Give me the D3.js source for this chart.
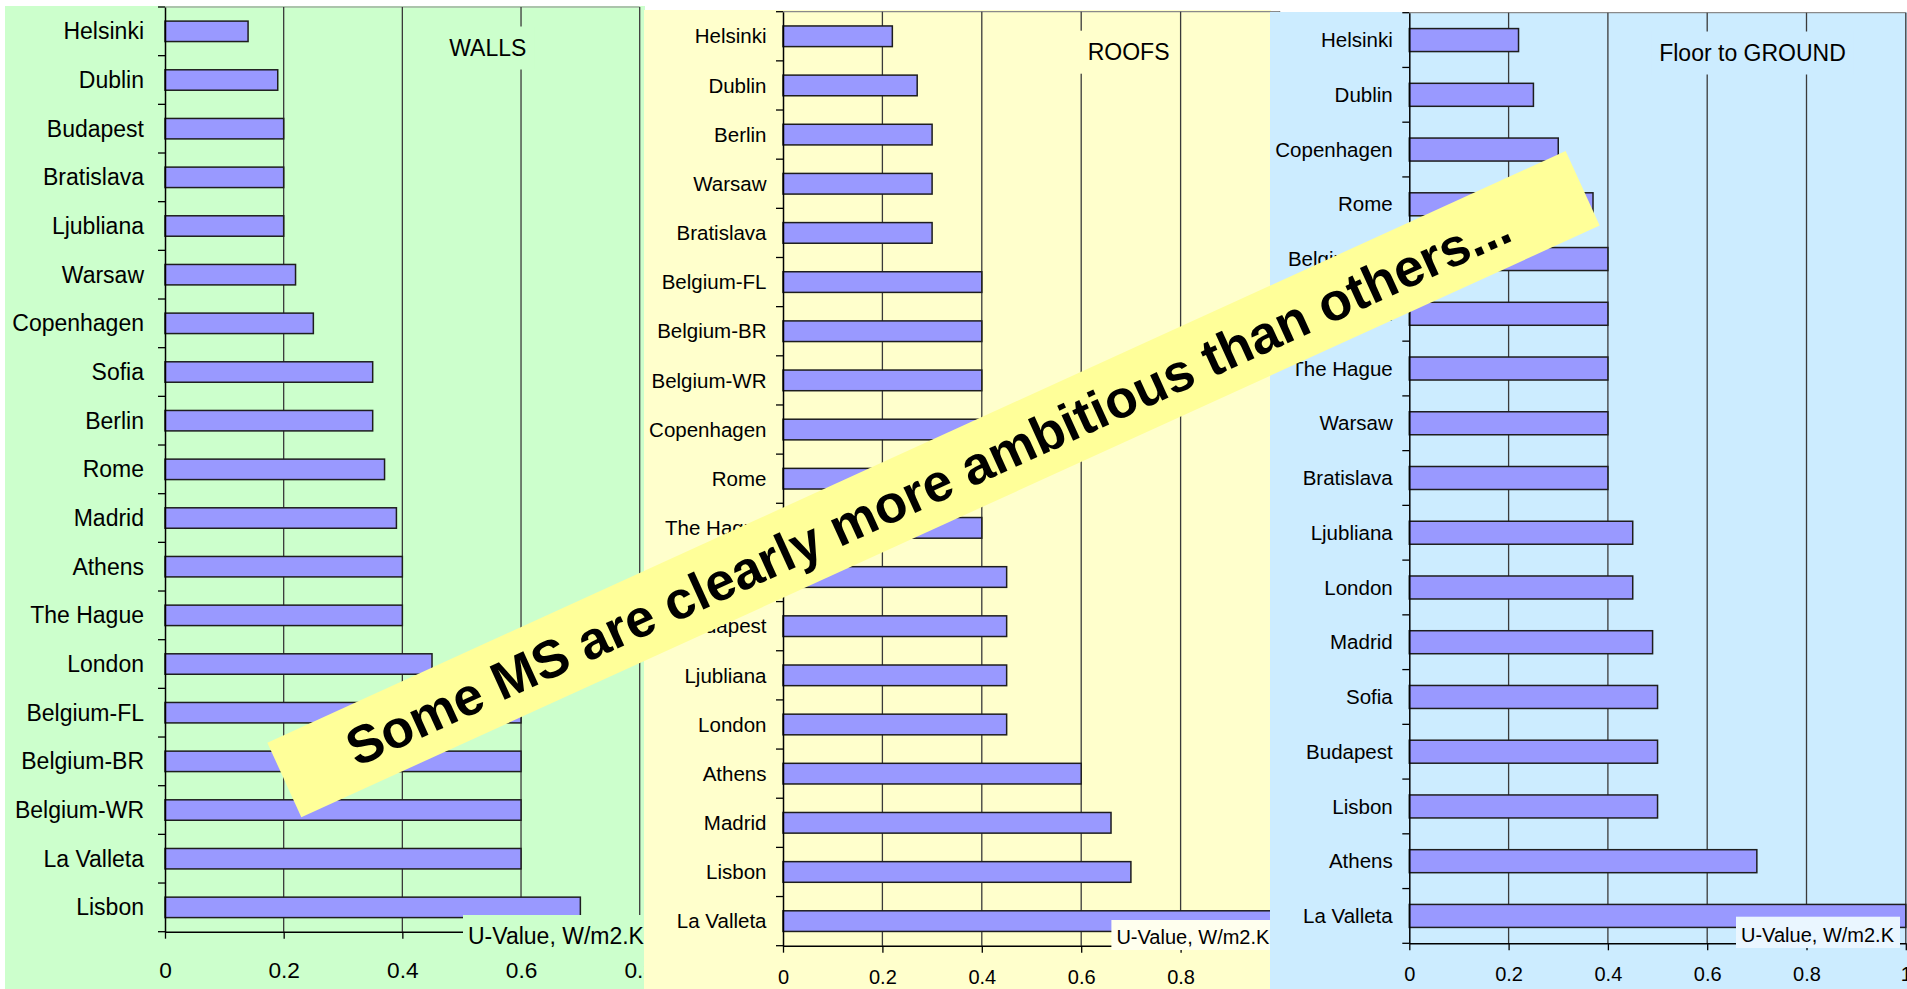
<!DOCTYPE html>
<html>
<head>
<meta charset="utf-8">
<script src="https://cdn.jsdelivr.net/npm/d3@7"></script>
<style>
  body { margin: 0; background: #fff; }
  svg { display: block; font-family: "Liberation Sans", Arial, sans-serif; }
</style>
</head>
<body>
<svg id="chart" width="1907" height="989"></svg>
<script>
// walls
var wallsCities = ["Helsinki", "Dublin", "Budapest", "Bratislava", "Ljubliana", "Warsaw", "Copenhagen", "Sofia", "Berlin", "Rome",
    "Madrid", "Athens", "The Hague", "London", "Belgium-FL", "Belgium-BR", "Belgium-WR", "La Valleta", "Lisbon"];
var wallsValues = [0.14, 0.19, 0.2, 0.2, 0.2, 0.22, 0.25, 0.35, 0.35, 0.37, 0.39, 0.4, 0.4, 0.45, 0.6, 0.6, 0.6, 0.6, 0.7];

// roofs
var roofsCities = ["Helsinki", "Dublin", "Berlin", "Warsaw", "Bratislava", "Belgium-FL", "Belgium-BR", "Belgium-WR", "Copenhagen", "Rome",
    "The Hague", "Sofia", "Budapest", "Ljubliana", "London", "Athens", "Madrid", "Lisbon", "La Valleta"];
var roofsValues = [0.22, 0.27, 0.3, 0.3, 0.3, 0.4, 0.4, 0.4, 0.4, 0.4, 0.4, 0.45, 0.45, 0.45, 0.45, 0.6, 0.66, 0.7, 1.0];

// floor to ground
var floorCities = ["Helsinki", "Dublin", "Copenhagen", "Rome", "Belgium-FL", "Belgium-BR", "The Hague", "Warsaw", "Bratislava",
    "Ljubliana", "London", "Madrid", "Sofia", "Budapest", "Lisbon", "Athens", "La Valleta"];
var floorValues = [0.22, 0.25, 0.3, 0.37, 0.4, 0.4, 0.4, 0.4, 0.4, 0.45, 0.45, 0.49, 0.5, 0.5, 0.5, 0.7, 1.0];

var wallsTicks = [0, 0.2, 0.4, 0.6, 0.8];
var roofsTicks = [0, 0.2, 0.4, 0.6, 0.8, 1];
var floorTicks = [0, 0.2, 0.4, 0.6, 0.8, 1];

var unitLabel = "U-Value, W/m2.K";
var bannerText = "Some MS are clearly more ambitious than others...";

var svg = d3.select("#chart");

function drawPanel(cfg) {
    var g = svg.append("g");
    var n = cfg.cities.length;

    var x = d3.scaleLinear().domain([0, d3.max(cfg.ticks)]).range([cfg.left, cfg.right]);
    var y = d3.scaleBand().domain(cfg.cities).range([cfg.top, cfg.bottom])
        .paddingInner(0.58).paddingOuter(0.29);

    g.append("rect")
        .attr("x", cfg.bg[0]).attr("y", cfg.bg[1])
        .attr("width", cfg.bg[2]).attr("height", cfg.bg[3])
        .attr("fill", cfg.color);

    // plot area top border
    g.append("line")
        .attr("x1", x(0)).attr("x2", x(d3.max(cfg.ticks)))
        .attr("y1", cfg.top).attr("y2", cfg.top)
        .attr("stroke", "#8a8a8a").attr("stroke-width", 1.2);

    // gridlines
    g.selectAll(".grid")
        .data(cfg.ticks.filter(function(d) { return d > 0; }))
        .enter().append("line")
        .attr("x1", function(d) { return x(d); }).attr("x2", function(d) { return x(d); })
        .attr("y1", cfg.top).attr("y2", cfg.bottom)
        .attr("stroke", "#3a3a3a").attr("stroke-width", 1.3);

    // title with a box in panel colour hiding the gridlines
    var title = g.append("text")
        .attr("x", cfg.title[1]).attr("y", cfg.title[2])
        .attr("text-anchor", "middle").attr("dy", "0.35em")
        .style("font-size", "23px").attr("fill", "#000")
        .text(cfg.title[0]);
    var tw = title.node().getComputedTextLength();
    g.insert("rect", function() { return title.node(); })
        .attr("x", cfg.title[1] - tw / 2 - 8).attr("y", cfg.title[2] - 21)
        .attr("width", tw + 16).attr("height", 43)
        .attr("fill", cfg.color);

    // bars
    g.selectAll(".bar")
        .data(cfg.cities)
        .enter().append("rect")
        .attr("x", x(0))
        .attr("y", function(d) { return y(d); })
        .attr("width", function(d, i) { return x(cfg.values[i]) - x(0); })
        .attr("height", y.bandwidth())
        .attr("fill", "#9999FF")
        .attr("stroke", "#1e1e1e").attr("stroke-width", 1.5);

    // y axis with category labels
    var yAxis = g.append("g")
        .attr("transform", "translate(" + x(0) + ",0)")
        .call(d3.axisLeft(y).tickSize(0).tickSizeOuter(0).tickPadding(cfg.gap));
    yAxis.select(".domain").attr("stroke", "#000").attr("stroke-width", 1.5);
    yAxis.selectAll("text").style("font-size", cfg.fs + "px").attr("fill", "#000").attr("dy", "0.35em");

    // category separators on the axis
    g.selectAll(".ctick")
        .data(d3.range(n + 1))
        .enter().append("line")
        .attr("x1", x(0) - 7).attr("x2", x(0))
        .attr("y1", function(i) { return y.range()[0] + i * y.step(); })
        .attr("y2", function(i) { return y.range()[0] + i * y.step(); })
        .attr("stroke", "#000").attr("stroke-width", 1.3);

    // x axis
    var xAxis = g.append("g")
        .attr("transform", "translate(0," + cfg.bottom + ")")
        .call(d3.axisBottom(x).tickValues(cfg.ticks).tickSize(7).tickSizeOuter(0)
            .tickFormat(function(d) { return String(d); }));
    xAxis.select(".domain").attr("stroke", "#000").attr("stroke-width", 1.5);
    xAxis.selectAll("line").attr("stroke", "#000").attr("stroke-width", 1.3);
    xAxis.selectAll("text")
        .attr("y", cfg.tickOff).attr("dy", "0.35em")
        .style("font-size", cfg.tickFs + "px").attr("fill", "#000");

    // unit label box
    var u = cfg.unit;
    g.append("rect")
        .attr("x", u.x).attr("y", u.y0)
        .attr("width", u.w).attr("height", u.y1 - u.y0)
        .attr("fill", u.fill);
    g.append("text")
        .attr("x", u.x + 5).attr("y", u.base)
        .style("font-size", u.fs + "px").attr("fill", "#000")
        .text(unitLabel);
}

drawPanel({
    cities: wallsCities, values: wallsValues, ticks: wallsTicks,
    color: "#CCFFCC", bg: [5, 6, 640, 983],
    left: 165, right: 639.7, top: 7, bottom: 931.7,
    fs: 23, tickFs: 22.7, gap: 21, tickOff: 38,
    title: ["WALLS", 487.8, 47.5],
    unit: { x: 463, y0: 915, y1: 950, w: 190, base: 944, fs: 23, fill: "#CCFFCC" }
});

drawPanel({
    cities: roofsCities, values: roofsValues, ticks: roofsTicks,
    color: "#FFFFCC", bg: [644, 10, 627, 979],
    left: 783, right: 1280, top: 11.7, bottom: 945.7,
    fs: 20.5, tickFs: 20, gap: 16.5, tickOff: 31,
    title: ["ROOFS", 1128.6, 51.7],
    unit: { x: 1111.4, y0: 920, y1: 950, w: 165, base: 944, fs: 20, fill: "#FFFFEE" }
});

drawPanel({
    cities: floorCities, values: floorValues, ticks: floorTicks,
    color: "#CCECFF", bg: [1270, 12, 637, 977],
    left: 1409.3, right: 1905.8, top: 12.7, bottom: 943.3,
    fs: 20.5, tickFs: 20, gap: 16.6, tickOff: 31,
    title: ["Floor to GROUND", 1752.5, 52.5],
    unit: { x: 1736, y0: 916.7, y1: 948, w: 164, base: 942, fs: 20, fill: "#EAF6FF" }
});

// banner across the three panels
var banner = svg.append("g")
    .attr("transform", "translate(933.5,484.1) rotate(-24.5)");
banner.append("rect")
    .attr("x", -713.4).attr("y", -41)
    .attr("width", 1426.8).attr("height", 82)
    .attr("fill", "#FFFF99");
banner.append("text")
    .attr("x", -6).attr("y", 0)
    .attr("text-anchor", "middle").attr("dy", "0.35em")
    .style("font-size", "53px").style("font-weight", "bold")
    .attr("fill", "#000")
    .text(bannerText);
</script>
</body>
</html>
